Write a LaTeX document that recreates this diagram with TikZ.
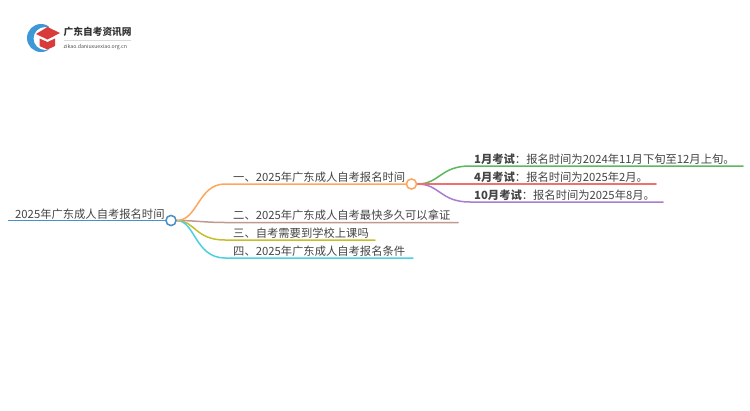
\documentclass[tikz,border=0pt]{standalone}
\usepackage{fontspec}
\setmainfont{Noto Sans CJK SC}
\definecolor{cblue}{HTML}{4A90C8}
\definecolor{clogo}{HTML}{3E97D6}
\definecolor{clogored}{HTML}{D93A3A}
\definecolor{corange}{HTML}{FFA65C}
\definecolor{cbrown}{HTML}{C09A90}
\definecolor{colive}{HTML}{C4BE2C}
\definecolor{ccyan}{HTML}{4CCFDE}
\definecolor{cgreen}{HTML}{5CB85C}
\definecolor{cred}{HTML}{F07070}
\definecolor{cpurple}{HTML}{A97CD0}
\definecolor{ctext}{HTML}{444444}
\tikzset{
  label/.style={anchor=base west,inner sep=0pt,font=\fontsize{11.3}{12}\selectfont,text=ctext},
  link/.style={line width=1.5pt,line cap=round},
  hub/.style={circle,draw=#1,fill=white,line width=1.4pt,minimum size=10pt,inner sep=0pt}
}
\begin{document}
\begin{tikzpicture}[x=1pt,y=-1pt]
\useasboundingbox (0,0) rectangle (750,410);
% logo
\begin{scope}
\clip (20,20) rectangle (49,56);
\fill[clogo,even odd rule] (41,38) circle[radius=14] (45,38.5) circle[radius=11.5];
\end{scope}
\fill[clogored] (47.5,27) -- (60,33) -- (47.5,39.5) -- (36,34) -- cycle;
\fill[clogored] (39.5,38.5) -- (47.5,42) -- (55,38.5) -- (55,46) -- (47.5,49.5) -- (39.5,46) -- cycle;
\node[anchor=base west,inner sep=0pt,font=\fontsize{9.7}{10}\selectfont\bfseries,text=black!80] (logoa) at (63.5,35.5) {广东自考资讯网};
\node[anchor=base west,inner sep=0pt,font=\fontsize{5.2}{6}\selectfont,text=black!70] (logob) at (63.5,48) {zikao.daniuxuexiao.org.cn};
\coordinate (rulea) at (63.5,40.5);
\coordinate (ruleb) at (131,40.5);
\draw[black!15,line width=0.5pt] (rulea) -- (ruleb);
% nodes
\node[hub=cblue] (root) at (171,220.5) {};
\node[hub=corange] (b1) at (411.5,184) {};
\coordinate (r0) at (8.5,220.5);
\coordinate (b1s) at (225,184);
\coordinate (b2s) at (225,222.5);
\coordinate (b2e) at (458,222.5);
\coordinate (b3s) at (225,240);
\coordinate (b3e) at (375,240);
\coordinate (b4s) at (225,258);
\coordinate (b4e) at (413,258);
\coordinate (c1s) at (470,166);
\coordinate (c1e) at (743,166);
\coordinate (c2s) at (470,184);
\coordinate (c2e) at (656,184);
\coordinate (c3s) at (470,202);
\coordinate (c3e) at (663,202);
% connectors
\draw[link,cblue] (r0) -- (root);
\draw[link,cbrown] (root.east) .. controls (195,220.5) and (205,222.5) .. (b2s) -- (b2e);
\draw[link,colive] (root.east) .. controls (195,220.5) and (195,240) .. (b3s) -- (b3e);
\draw[link,ccyan] (root.east) .. controls (195,220.5) and (195,258) .. (b4s) -- (b4e);
\draw[link,corange] (root.east) .. controls (198,220.5) and (198,184) .. (b1s) -- (b1);
\draw[link,cgreen] (b1.east) .. controls (440,184) and (440,166) .. (c1s) -- (c1e);
\draw[link,cpurple] (b1.east) .. controls (440,184) and (440,202) .. (c3s) -- (c3e);
\draw[link,cred] (b1.east) -- (c2s) -- (c2e);
\node[hub=cblue] at (root) {};
\node[hub=corange] at (b1) {};
% labels
\node[label] (t0) at (15,218) {2025年广东成人自考报名时间};
\node[label] (t1) at (233,181.5) {一、2025年广东成人自考报名时间};
\node[label] (t2) at (233,219) {二、2025年广东成人自考最快多久可以拿证};
\node[label] (t3) at (233,237) {三、自考需要到学校上课吗};
\node[label] (t4) at (233,255) {四、2025年广东成人自考报名条件};
\node[label] (t5) at (474,163) {\textbf{1月考试}：报名时间为2024年11月下旬至12月上旬。};
\node[label] (t6) at (474,181) {\textbf{4月考试}：报名时间为2025年2月。};
\node[label] (t7) at (474,199) {\textbf{10月考试}：报名时间为2025年8月。};
\end{tikzpicture}
\end{document}
